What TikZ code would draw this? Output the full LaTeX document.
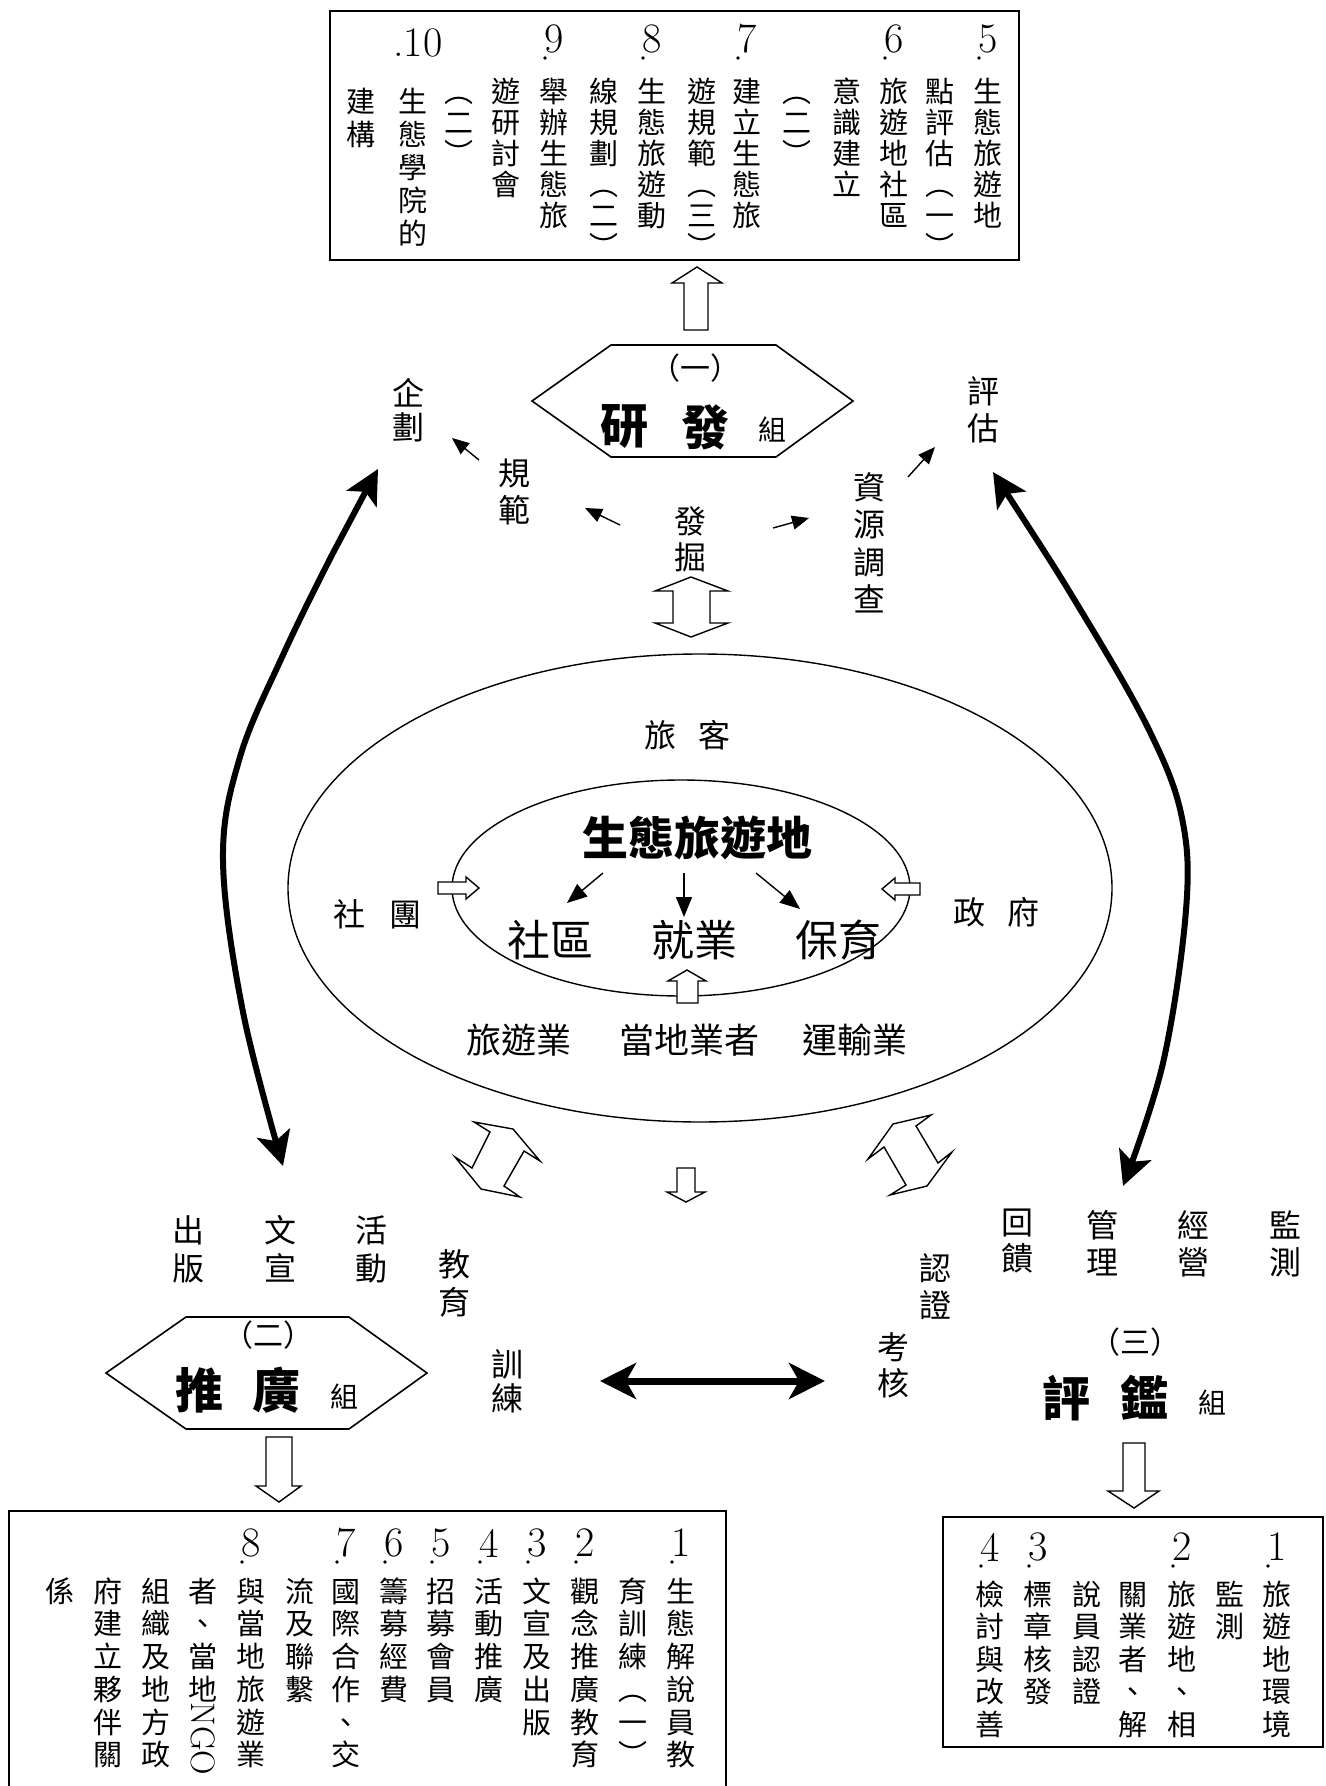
\documentclass[tikz,border=0pt]{standalone}
\usepackage{fontspec}
\newfontfamily\cjk{Noto Sans CJK TC}
\usetikzlibrary{arrows.meta}
\newcommand\VText[6]{%
  \foreach \ch [count=\k from 0] in {#6}{\node[#2] (#1-\k) at ({#3},{#4+\k*#5}) {\ch};}}
\newcommand\NumDot{}
\renewcommand\NumDot[4]{%
  \node[numst] (#1) at ({#2},{#3}) {#4};
  \fill ({#2-9},{#3+19}) circle[radius=1.8];}
\tikzset{
 boxch/.style={font=\cjk\fontsize{14.5}{14.5}\selectfont, inner sep=0pt, text height=0.8em, text depth=0.08em, yshift=-2.5pt},
 lblch/.style={font=\cjk\fontsize{16}{16}\selectfont, inner sep=0pt, text height=0.8em, text depth=0.08em, yshift=-2.5pt},
 midch/.style={font=\cjk\fontsize{17.5}{17.5}\selectfont, inner sep=0pt},
 bigch/.style={font=\cjk\fontsize{21.5}{21.5}\selectfont, inner sep=0pt},
 ttl/.style={font=\cjk\bfseries\fontsize{24}{24}\selectfont, inner sep=0pt},
 ttlmid/.style={font=\cjk\bfseries\fontsize{23}{23}\selectfont, inner sep=0pt},
 ttlsm/.style={font=\cjk\fontsize{14}{14}\selectfont, inner sep=0pt},
 paren/.style={font=\cjk\fontsize{15}{15}\selectfont, inner sep=0pt},
 numst/.style={font=\fontsize{21}{21}\selectfont, inner sep=0pt},
 boxframe/.style={line width=0.9pt},
 openarrow/.style={line width=0.7pt, fill=white, line join=miter},
 sarrow/.style={line width=0.7pt, -{Triangle[length=8.5pt,width=7pt]}},
 iarrow/.style={line width=0.7pt, -{Triangle[length=10pt,width=8pt]}},
 boldarrow/.style={line width=3pt, {Stealth[length=17pt,width=17pt,inset=4pt]}-{Stealth[length=17pt,width=17pt,inset=4pt]}},
 hexa/.style={line width=0.8pt},
 ell/.style={line width=0.7pt}
}
\begin{document}
\begin{tikzpicture}[x=0.5pt,y=-0.5pt]
\useasboundingbox (0,0) rectangle (1326,1786);
\fill[white] (0,0) rectangle (1326,1786);

% ---------- top box ----------
\draw[boxframe] (330,11) rectangle (1019,260);
\NumDot{n5}{988}{39}{5}
\NumDot{n6}{894}{39}{6}
\NumDot{n7}{747}{39}{7}
\NumDot{n8}{652}{39}{8}
\NumDot{n9}{554}{39}{9}
\node[numst] (n10) at (418,43) {.10};
\VText{t5}{boxch}{988}{90}{31}{生,態,旅,遊,地}
\VText{t5b}{boxch}{940}{90}{31}{點,評,估,︵,一,︶}
\VText{t6}{boxch}{894}{90}{31}{旅,遊,地,社,區}
\VText{t6b}{boxch}{847}{90}{31}{意,識,建,立}
\VText{t6c}{boxch}{797}{90}{31}{︵,二,︶}
\VText{t7}{boxch}{747}{90}{31}{建,立,生,態,旅}
\VText{t7b}{boxch}{702}{90}{31}{遊,規,範,︵,三,︶}
\VText{t8}{boxch}{652}{90}{31}{生,態,旅,遊,動}
\VText{t8b}{boxch}{604}{90}{31}{線,規,劃,︵,二,︶}
\VText{t9}{boxch}{554}{90}{31}{舉,辦,生,態,旅}
\VText{t9b}{boxch}{506}{90}{31}{遊,研,討,會}
\VText{t9c}{boxch}{459}{90}{31}{︵,二,︶}
\VText{t10}{boxch}{413}{100}{33}{生,態,學,院,的}
\VText{t10b}{boxch}{361}{100}{33}{建,構}

% up arrow to top box
\draw[openarrow] (697,267) -- (722,283) -- (708,283) -- (708,330) -- (684,330) -- (684,283) -- (672,283) -- cycle;

% ---------- research hexagon ----------
\draw[hexa] (532,401) -- (611,345) -- (776,345) -- (853,401) -- (776,457) -- (611,457) -- cycle;
\node[paren] (h1p) at (695,368) {（一）};
\node[ttl] (h1a) at (624,427) {研};
\node[ttl] (h1b) at (705,427) {發};
\node[ttlsm] (h1c) at (772,430) {組};

% labels around
\VText{qh}{lblch}{408}{393}{34}{企,劃}
\VText{pg}{lblch}{983}{391}{37}{評,估}
\VText{gf}{lblch}{514}{473}{37}{規,範}
\VText{fj}{lblch}{690}{521}{36}{發,掘}
\VText{zy}{lblch}{869}{487}{37.5}{資,源,調,查}

\coordinate (s1a) at (479,460); \coordinate (s1b) at (452,438);
\coordinate (s2a) at (620,525); \coordinate (s2b) at (585,508);
\coordinate (s3a) at (773,528); \coordinate (s3b) at (809,518);
\coordinate (s4a) at (908,477); \coordinate (s4b) at (935,447);
\draw[sarrow] (s1a) -- (s1b);
\draw[sarrow] (s2a) -- (s2b);
\draw[sarrow] (s3a) -- (s3b);
\draw[sarrow] (s4a) -- (s4b);

% double vertical open arrow
\draw[openarrow] (691,577) -- (728,591) -- (710,591) -- (710,623) -- (728,623) -- (691,637) -- (655,623) -- (673,623) -- (673,591) -- (655,591) -- cycle;

% ---------- ellipses ----------
\draw[ell] (700,888) ellipse [x radius=412, y radius=234];
\draw[ell] (681,888) ellipse [x radius=229, y radius=108];
\node[lblch] (lk1) at (660,735) {旅};
\node[lblch] (lk2) at (714,735) {客};
\node[ttlmid] (eco) at (697,838) {生態旅遊地};
\node[bigch] (sq) at (550,940) {社區};
\node[bigch] (jy) at (694,940) {就業};
\node[bigch] (by) at (838,940) {保育};
\node[lblch] (st1) at (349,914) {社};
\node[lblch] (st2) at (405,914) {團};
\node[lblch] (zf1) at (969,912) {政};
\node[lblch] (zf2) at (1023,912) {府};
\node[midch] (lyy) at (519,1040) {旅遊業};
\node[midch] (ddy) at (689,1040) {當地業者};
\node[midch] (ysy) at (855,1040) {運輸業};

\coordinate (e1a) at (603,873); \coordinate (e1b) at (567,903);
\coordinate (e2a) at (684,873); \coordinate (e2b) at (684,917);
\coordinate (e3a) at (756,873); \coordinate (e3b) at (800,909);
\draw[iarrow] (e1a) -- (e1b);
\draw[iarrow] (e2a) -- (e2b);
\draw[iarrow] (e3a) -- (e3b);

\draw[openarrow] (438,882) -- (466,882) -- (466,877) -- (479,888) -- (466,899) -- (466,894) -- (438,894) -- cycle;
\draw[openarrow] (920,883) -- (895,883) -- (895,878) -- (882,889) -- (895,900) -- (895,895) -- (920,895) -- cycle;
\draw[openarrow] (687,970) -- (706,981) -- (698,981) -- (698,1003) -- (677,1003) -- (677,981) -- (668,981) -- cycle;

% open arrows below ellipse
\draw[openarrow] (474,1122) -- (513,1129) -- (540,1161) -- (524,1151) -- (504,1186) -- (520,1197) -- (481,1189) -- (455,1157) -- (472,1168) -- (490,1132) -- cycle;
\draw[openarrow] (931,1115) -- (893,1124) -- (868,1159) -- (884,1147) -- (906,1185) -- (890,1195) -- (927,1186) -- (952,1152) -- (938,1163) -- (916,1126) -- cycle;
\draw[openarrow] (677,1168) -- (695,1168) -- (695,1192) -- (705,1192) -- (686,1202) -- (667,1192) -- (677,1192) -- cycle;

% ---------- bold curved arrows ----------
\coordinate (L1) at (378,469); \coordinate (L2) at (333,553); \coordinate (L3) at (283,655);
\coordinate (L4) at (240,757); \coordinate (L5) at (223,860); \coordinate (L6) at (243,1012);
\coordinate (L7) at (283,1166);
\draw[boldarrow] plot[smooth, tension=0.6] coordinates {(L1) (L2) (L3) (L4) (L5) (L6) (L7)};
\coordinate (R1) at (993,472); \coordinate (R2) at (1083,614); \coordinate (R3) at (1150,732);
\coordinate (R4) at (1182,818); \coordinate (R5) at (1186,910); \coordinate (R6) at (1163,1063);
\coordinate (R7) at (1123,1186);
\draw[boldarrow] plot[smooth, tension=0.6] coordinates {(R1) (R2) (R3) (R4) (R5) (R6) (R7)};

% ---------- promotion group ----------
\VText{cb}{lblch}{188}{1230}{38}{出,版}
\VText{wx}{lblch}{280}{1230}{38}{文,宣}
\VText{hd}{lblch}{371}{1230}{38}{活,動}
\VText{jiao}{lblch}{454}{1264}{38}{教,育}
\draw[hexa] (106,1373) -- (186,1317) -- (349,1317) -- (427,1373) -- (349,1429) -- (186,1429) -- cycle;
\node[paren] (h2p) at (268,1335) {（二）};
\node[ttl] (h2a) at (199,1390) {推};
\node[ttl] (h2b) at (276,1390) {廣};
\node[ttlsm] (h2c) at (344,1397) {組};
\VText{xl}{lblch}{507}{1364}{34}{訓,練}

\coordinate (HA) at (600,1381); \coordinate (HB) at (825,1381);
\draw[line width=3.5pt, {Stealth[length=18pt,width=18pt,inset=5pt]}-{Stealth[length=18pt,width=18pt,inset=5pt]}] (HA) -- (HB);

\draw[openarrow] (266,1437) -- (292,1437) -- (292,1486) -- (301,1486) -- (279,1502) -- (256,1486) -- (266,1486) -- cycle;

% lower-left box
\draw[boxframe] (9,1786) -- (9,1511) -- (726,1511) -- (726,1786);
\NumDot{m1}{681}{1543}{1}
\NumDot{m2}{585}{1543}{2}
\NumDot{m3}{537}{1543}{3}
\NumDot{m4}{489}{1543}{4}
\NumDot{m5}{441}{1543}{5}
\NumDot{m6}{394}{1543}{6}
\NumDot{m7}{346}{1543}{7}
\NumDot{m8}{251}{1543}{8}
\VText{b1}{boxch}{681}{1590}{32.7}{生,態,解,說,員,教}
\VText{b1b}{boxch}{633}{1590}{32.7}{育,訓,練,︵,一,︶}
\VText{b2}{boxch}{585}{1590}{32.7}{觀,念,推,廣,教,育}
\VText{b3}{boxch}{537}{1590}{32.7}{文,宣,及,出,版}
\VText{b4}{boxch}{489}{1590}{32.7}{活,動,推,廣}
\VText{b5}{boxch}{441}{1590}{32.7}{招,募,會,員}
\VText{b6}{boxch}{394}{1590}{32.7}{籌,募,經,費}
\VText{b7}{boxch}{346}{1590}{32.7}{國,際,合,作,、,交}
\VText{b7b}{boxch}{300}{1590}{32.7}{流,及,聯,繫}
\VText{b8}{boxch}{251}{1590}{32.7}{與,當,地,旅,遊,業}
\VText{b8b}{boxch}{203}{1590}{32.7}{者,、,當,地}
\node[inner sep=0pt, font=\fontsize{17}{17}\selectfont, rotate=-90] (ngo) at (203,1739) {NGO};
\VText{b8c}{boxch}{156}{1590}{32.7}{組,織,及,地,方,政}
\VText{b8d}{boxch}{108}{1590}{32.7}{府,建,立,夥,伴,關}
\VText{b8e}{boxch}{60}{1590}{32.7}{係}

% ---------- evaluation group ----------
\VText{hk}{lblch}{1017}{1222}{36}{回,饋}
\VText{gl}{lblch}{1102}{1225}{37}{管,理}
\VText{jyg}{lblch}{1193}{1225}{37}{經,營}
\VText{jc}{lblch}{1285}{1225}{37}{監,測}
\VText{rz}{lblch}{935}{1268}{37}{認,證}
\VText{kh}{lblch}{893}{1347}{36}{考,核}
\node[paren] (h3p) at (1135,1342) {（三）};
\node[ttl] (h3a) at (1066,1398) {評};
\node[ttl] (h3b) at (1144,1398) {鑑};
\node[ttlsm] (h3c) at (1212,1403) {組};

\draw[openarrow] (1123,1443) -- (1145,1443) -- (1145,1491) -- (1159,1491) -- (1134,1508) -- (1108,1491) -- (1123,1491) -- cycle;

% lower-right box
\draw[boxframe] (943,1517) rectangle (1323,1747);
\NumDot{k1}{1277}{1547}{1}
\NumDot{k2}{1182}{1547}{2}
\NumDot{k3}{1038}{1547}{3}
\NumDot{k4}{990}{1547}{4}
\VText{r1}{boxch}{1277}{1593}{32.5}{旅,遊,地,環,境}
\VText{r1b}{boxch}{1230}{1593}{32.5}{監,測}
\VText{r2}{boxch}{1182}{1593}{32.5}{旅,遊,地,、,相}
\VText{r2b}{boxch}{1133}{1593}{32.5}{關,業,者,、,解}
\VText{r2c}{boxch}{1087}{1593}{32.5}{說,員,認,證}
\VText{r3}{boxch}{1038}{1593}{32.5}{標,章,核,發}
\VText{r4}{boxch}{990}{1593}{32.5}{檢,討,與,改,善}
\end{tikzpicture}
\end{document}
